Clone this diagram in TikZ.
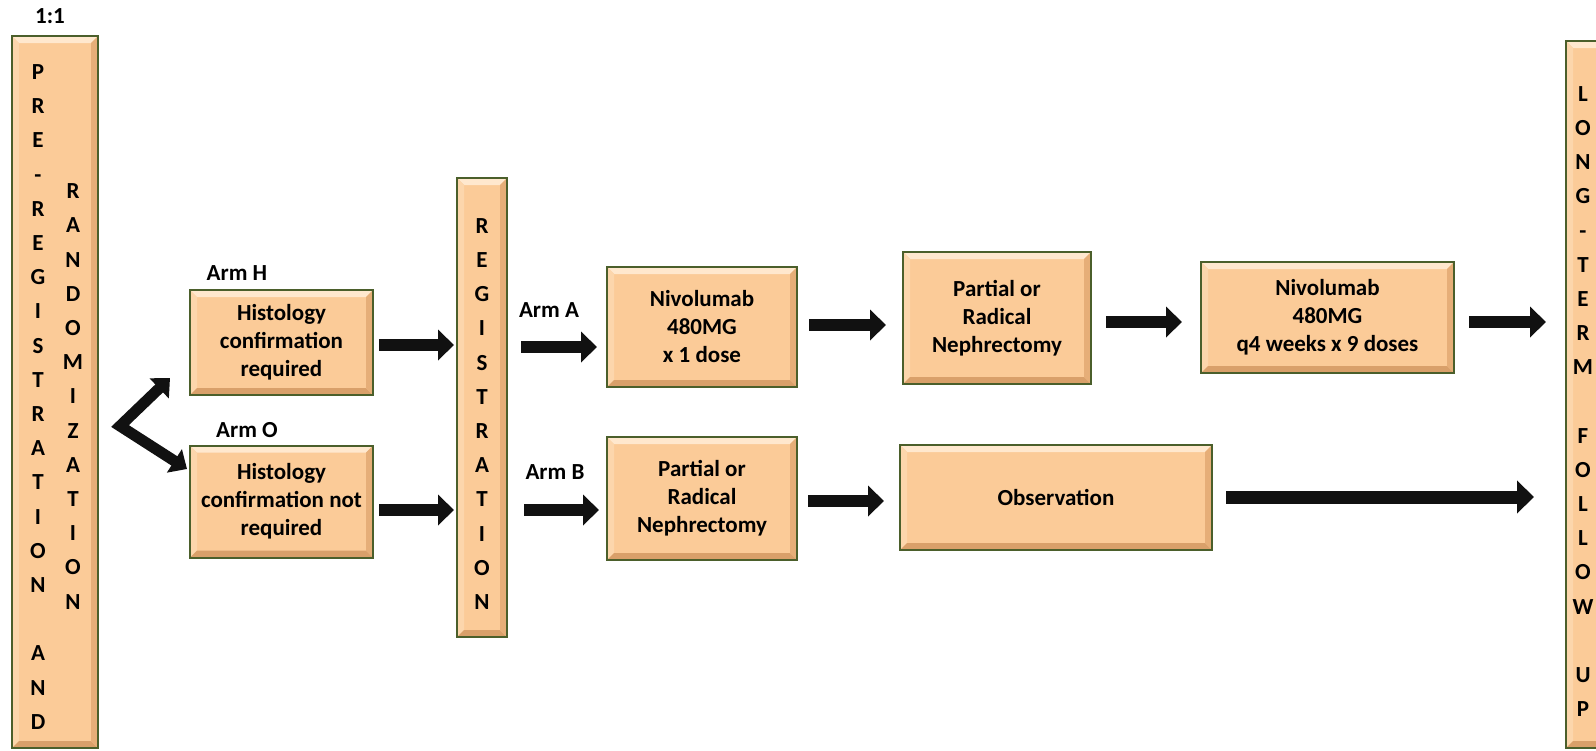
\documentclass[tikz,border=0pt]{standalone}
\usepackage{fontspec}
\setmainfont{Carlito}
\usetikzlibrary{arrows.meta,calc}
\definecolor{peach}{HTML}{FBCB98}
\definecolor{peachtop}{HTML}{FFE8CE}
\definecolor{peachleft}{HTML}{FCD6AC}
\definecolor{peachbot}{HTML}{D9A06A}
\definecolor{peachright}{HTML}{E6AE78}
\definecolor{boxborder}{HTML}{4B5F2B}
\definecolor{arrowblack}{HTML}{111111}
\newcommand{\diagfont}{\fontsize{23}{28}\selectfont\bfseries}
\newcommand{\colfont}{\fontsize{23}{34.2}\selectfont\bfseries}
\tikzset{
  box/.style={draw=boxborder, line width=2pt, fill=peach, inner sep=0pt,
    align=center, font=\diagfont, text=black,
    path picture={
      \path (path picture bounding box.north west) coordinate (q1)
            (path picture bounding box.north east) coordinate (q2)
            (path picture bounding box.south east) coordinate (q3)
            (path picture bounding box.south west) coordinate (q4);
      \fill[peachtop] (q1) -- (q2) -- ([shift={(-7pt,-7pt)}]q2) -- ([shift={(7pt,-7pt)}]q1) -- cycle;
      \fill[peachleft] (q1) -- (q4) -- ([shift={(7pt,7pt)}]q4) -- ([shift={(7pt,-7pt)}]q1) -- cycle;
      \fill[peachbot] (q4) -- (q3) -- ([shift={(-7pt,7pt)}]q3) -- ([shift={(7pt,7pt)}]q4) -- cycle;
      \fill[peachright] (q2) -- (q3) -- ([shift={(-7pt,7pt)}]q3) -- ([shift={(-7pt,-7pt)}]q2) -- cycle;
    }},
  coltext/.style={inner sep=0pt, align=center, font=\colfont, text=black},
  lbl/.style={inner sep=0pt, font=\diagfont, text=black},
  bigarrow/.style={draw=arrowblack, line width=12pt,
    -{Triangle[length=16pt,width=30pt]}},
  longarrow/.style={draw=arrowblack, line width=13pt,
    -{Triangle[length=17pt,width=32pt]}},
  forkarrow/.style={draw=arrowblack, line width=11pt, line join=miter,
    {Triangle[length=15pt,width=27pt]}-{Triangle[length=15pt,width=27pt]}},
}
\begin{document}
\begin{tikzpicture}[x=1pt,y=-1pt]
\useasboundingbox (0,0) rectangle (1596,750);
\clip (0,0) rectangle (1596,750);
\fill[white] (0,0) rectangle (1596,750);

% ratio label
\node[lbl] (ratio) at (50,16) {1:1};

% pre-registration and randomization column
\node[box, minimum width=86pt, minimum height=712pt] (prereg) at (55,392) {};
\node[coltext] (pretext) at (38,397) {P\\R\\E\\-\\R\\E\\G\\I\\S\\T\\R\\A\\T\\I\\O\\N\\[34.2pt]A\\N\\D};
\node[coltext] (randtext) at (73,396.5) {R\\A\\N\\D\\O\\M\\I\\Z\\A\\T\\I\\O\\N};

% histology boxes
\node[lbl] (armH) at (237,273) {Arm H};
\node[box, minimum width=183pt, minimum height=105pt] (histH) at (281.5,342.5) {Histology\\confirmation\\required};
\node[lbl] (armO) at (247,430) {Arm O};
\node[box, minimum width=183pt, minimum height=112pt] (histO) at (281.5,501.5) {Histology\\confirmation not\\required};

% registration column
\node[box, minimum width=50pt, minimum height=459pt] (reg) at (482,407.5) {};
\node[coltext] (regtext) at (482,414) {R\\E\\G\\I\\S\\T\\R\\A\\T\\I\\O\\N};

% arm A
\node[lbl] (armA) at (549,310) {Arm A};
\node[box, minimum width=190pt, minimum height=120pt] (nivoA) at (702,327) {Nivolumab\\480MG\\x 1 dose};
\node[box, minimum width=188pt, minimum height=132pt] (nephA) at (997,318) {Partial or\\Radical\\Nephrectomy};
\node[box, minimum width=253pt, minimum height=111pt] (nivoNine) at (1327.5,317.5) {Nivolumab\\480MG\\q4 weeks x 9 doses};

% arm B
\node[lbl] (armB) at (555,472) {Arm B};
\node[box, minimum width=190pt, minimum height=123pt] (nephB) at (702,498.5) {Partial or\\Radical\\Nephrectomy};
\node[box, minimum width=312pt, minimum height=105pt] (obs) at (1056,497.5) {Observation};

% long-term follow up column
\node[box, minimum width=86pt, minimum height=707pt] (longterm) at (1609,394.5) {};
\node[coltext] (longtext) at (1583,401.5) {L\\O\\N\\G\\-\\T\\E\\R\\M\\[34.1pt]F\\O\\L\\L\\O\\W\\[34.1pt]U\\P};

% row coordinates
\coordinate (rowH) at (0,345);
\coordinate (rowO) at (0,510);
\coordinate (rowA) at (0,347);
\coordinate (rowB) at (0,510);
\coordinate (rowAone) at (0,325);
\coordinate (rowAtwo) at (0,322);
\coordinate (rowBone) at (0,501);
\coordinate (rowBtwo) at (0,497);

% fork arrows
\coordinate (fork) at (120,426);
\coordinate (tipH) at (170,378);
\coordinate (tipO) at (187,469);
\draw[forkarrow] (tipH) -- (fork) -- (tipO);

% connectors
\draw[bigarrow, shorten <=5pt, shorten >=2pt] (histH.east |- rowH) -- (reg.west |- rowH);
\draw[bigarrow, shorten <=5pt, shorten >=2pt] (histO.east |- rowO) -- (reg.west |- rowO);
\draw[bigarrow, shorten <=13pt, shorten >=9pt] (reg.east |- rowA) -- (nivoA.west |- rowA);
\draw[bigarrow, shorten <=16pt, shorten >=7pt] (reg.east |- rowB) -- (nephB.west |- rowB);
\draw[bigarrow, shorten <=11pt, shorten >=16pt] (nivoA.east |- rowAone) -- (nephA.west |- rowAone);
\draw[bigarrow, shorten <=14pt, shorten >=18pt] (nephA.east |- rowAtwo) -- (nivoNine.west |- rowAtwo);
\draw[bigarrow, shorten <=14pt, shorten >=19pt] (nivoNine.east |- rowAtwo) -- (longterm.west |- rowAtwo);
\draw[bigarrow, shorten <=10pt, shorten >=15pt] (nephB.east |- rowBone) -- (obs.west |- rowBone);
\draw[longarrow, shorten <=13pt, shorten >=31pt] (obs.east |- rowBtwo) -- (longterm.west |- rowBtwo);
\end{tikzpicture}
\end{document}
